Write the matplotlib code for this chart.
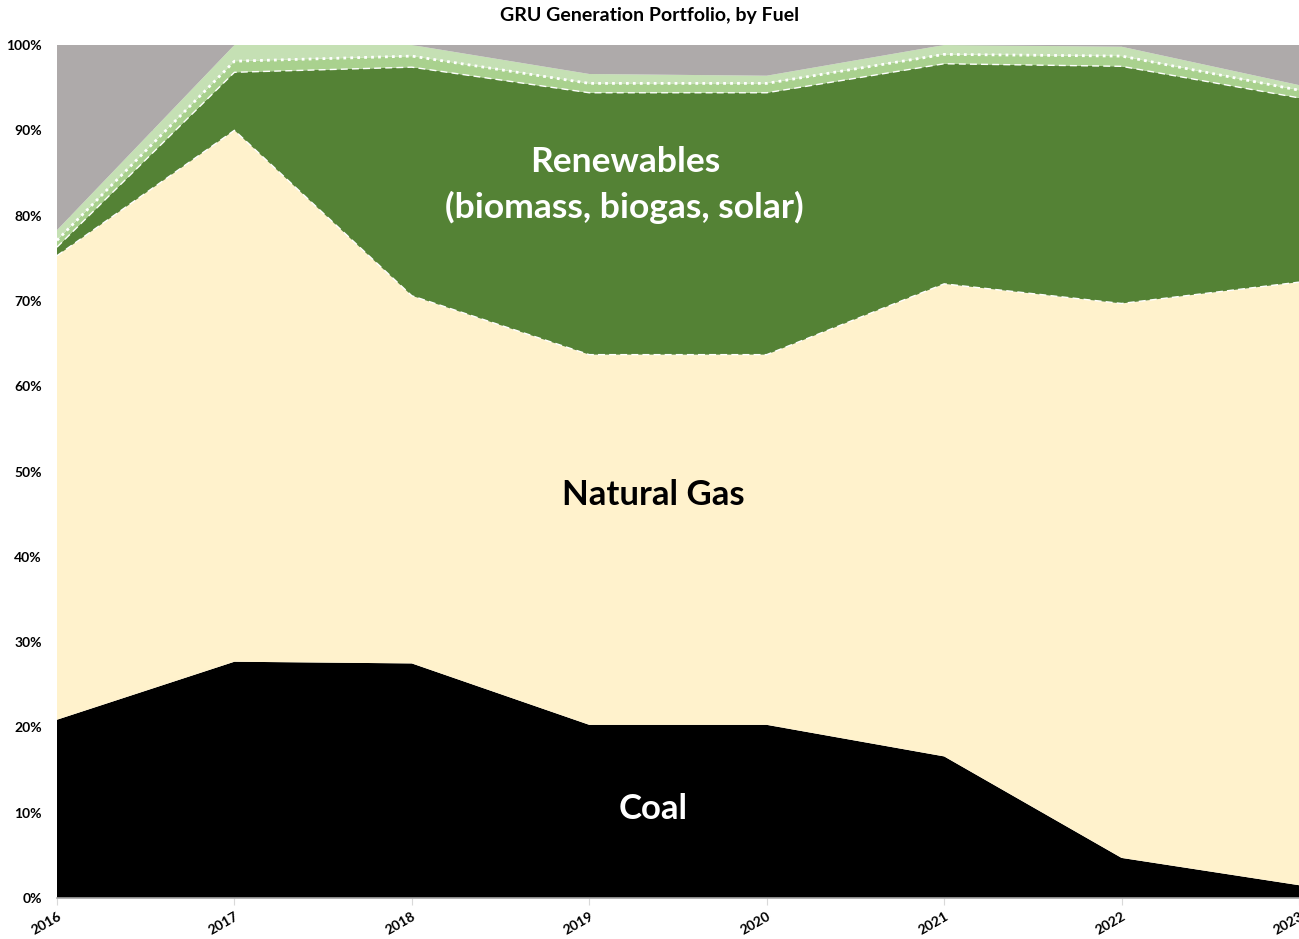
import matplotlib.pyplot as plt
import numpy as np

plt.rcParams["font.family"] = ["Lato", "DejaVu Sans"]

years = [2016, 2017, 2018, 2019, 2020, 2021, 2022, 2023]

# shares of generation, percent
coal = [20.9, 27.7, 27.5, 20.3, 20.3, 16.6, 4.7, 1.5]
natural_gas = [54.4, 62.3, 43.1, 43.4, 43.4, 55.4, 65.0, 70.7]
biomass = [1.0, 6.8, 26.8, 30.7, 30.7, 25.8, 27.8, 21.6]
biogas = [0.8, 1.3, 1.3, 1.1, 1.1, 1.1, 1.2, 0.9]
solar = [1.2, 1.9, 1.3, 1.1, 0.9, 1.1, 1.1, 0.6]

other = 100 - (np.array(coal) + np.array(natural_gas) + np.array(biomass)
               + np.array(biogas) + np.array(solar))
other = np.clip(other, 0, None)

colors = ["#000000", "#FFF2CC", "#548235", "#A9D18E", "#C5E0B4", "#AEAAAA"]

fig = plt.figure(figsize=(12.99, 9.39), dpi=100)
ax = fig.add_axes([57 / 1299, 1 - 898 / 939, 1 - 57 / 1299, (898 - 45) / 939])

ax.stackplot(years, coal, natural_gas, biomass, biogas, solar, other,
             colors=colors, linewidth=0)

gas_top = np.array(coal) + np.array(natural_gas)
bio_top = gas_top + np.array(biomass)
biogas_top = bio_top + np.array(biogas)

ax.plot(years, gas_top, color="white", linestyle=(0, (5, 3)), linewidth=1.0)
ax.plot(years, bio_top, color="white", linestyle=(0, (5, 3)), linewidth=1.0)
ax.plot(years, biogas_top, color="white", linestyle=(0, (1, 1.5)), linewidth=2.0)

ax.set_xlim(2016, 2023)
ax.set_ylim(0, 100)
ax.set_yticks(range(0, 101, 10))
ax.set_yticklabels([f"{v}%" for v in range(0, 101, 10)], fontsize=10, fontweight="bold")
ax.set_xticks(years)
ax.set_xticklabels([str(y) for y in years], fontsize=10, fontweight="bold",
                   rotation=30, ha="right", rotation_mode="anchor")
ax.tick_params(axis="y", length=0, pad=11)
ax.tick_params(axis="x", length=5, color="#D9D9D9", pad=4)

ax.set_axisbelow(True)
ax.yaxis.grid(True, color="#D9D9D9", linewidth=1)
for s in ["top", "right", "left"]:
    ax.spines[s].set_visible(False)
ax.spines["bottom"].set_color("#A6A6A6")
ax.spines["bottom"].set_linewidth(1.2)
ax.spines["bottom"].set_zorder(5)

fig.text(0.5, 1 - 16 / 939, "GRU Generation Portfolio, by Fuel",
         ha="center", va="center", fontsize=14, fontweight="bold")

ax.text(2019.2, 83.6, "Renewables\n(biomass, biogas, solar)", ha="center", va="center",
        fontsize=25.5, fontweight="bold", color="white", linespacing=1.45)
ax.text(2019.36, 47.2, "Natural Gas", ha="center", va="center",
        fontsize=25, fontweight="bold", color="black")
ax.text(2019.36, 10.4, "Coal", ha="center", va="center",
        fontsize=25, fontweight="bold", color="white")

fig.savefig("out.png", dpi=100)
